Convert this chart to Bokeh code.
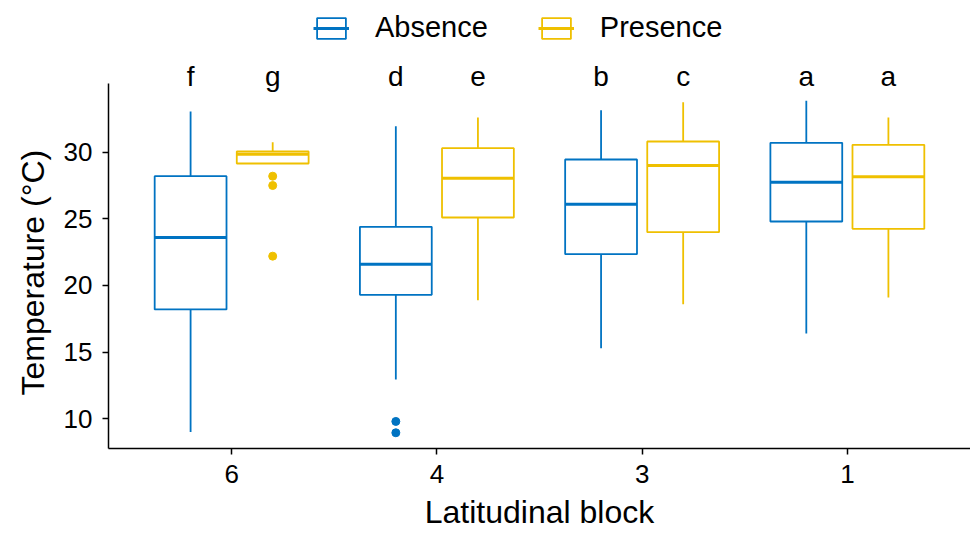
from bokeh.plotting import figure
from bokeh.models import (ColumnDataSource, FixedTicker, Range1d, Legend, LegendItem, Title)
from bokeh.core.properties import value
from bokeh.embed import file_html
from bokeh.resources import INLINE

# ---------------- data ----------------
blocks = ["6", "4", "3", "1"]
groups = ["Absence", "Presence"]

abs_lower = [9.0, 12.95, 15.3, 16.4]
abs_q1 = [18.2, 19.3, 22.35, 24.8]
abs_median = [23.6, 21.6, 26.1, 27.75]
abs_q3 = [28.2, 24.4, 29.45, 30.7]
abs_upper = [33.05, 31.95, 33.15, 33.85]

pre_lower = [29.15, 18.9, 18.6, 19.1]
pre_q1 = [29.15, 25.1, 24.0, 24.25]
pre_median = [29.85, 28.05, 29.0, 28.15]
pre_q3 = [30.05, 30.3, 30.8, 30.55]
pre_upper = [30.75, 32.6, 33.75, 32.6]

abs_out_block = ["4", "4"]
abs_out_value = [9.8, 8.95]
pre_out_block = ["6", "6", "6"]
pre_out_value = [28.2, 27.5, 22.2]

abs_letters = ["f", "d", "b", "a"]
pre_letters = ["g", "e", "c", "a"]

# ---------------- style ----------------
FONT = "Liberation Sans"
BLUE = "#0073C2"
YELLOW = "#EFC000"
DODGE = 0.2
BOX_W = 0.35
LETTER_Y = 35.65
Y_LO, Y_HI = 7.77, 35.15      # panel limits (axis line extent)
Y_TOP = 41.38                 # frame extends to window top for legend/letters

pos = {b: i + 1 for i, b in enumerate(blocks)}

p = figure(width=970, height=533, output_backend="svg", toolbar_location=None,
           x_range=Range1d(0.4, 4.6), y_range=Range1d(Y_LO, Y_TOP),
           min_border_left=108, min_border_right=0, min_border_top=0,
           min_border_bottom=85)
p.outline_line_color = None
p.xgrid.grid_line_color = None
p.ygrid.grid_line_color = None
p.background_fill_color = "white"
p.border_fill_color = "white"


def draw_group(lower, q1, med, q3, upper, out_b, out_v, letters, offset, color, name):
    xs = [pos[b] + offset for b in blocks]
    src = ColumnDataSource(dict(x=xs, lower=lower, q1=q1, med=med, q3=q3, upper=upper,
                                x0=[x - BOX_W / 2 for x in xs],
                                x1=[x + BOX_W / 2 for x in xs],
                                letter=letters, ly=[LETTER_Y] * len(xs)))
    p.segment(x0="x", y0="q3", x1="x", y1="upper", source=src, line_color=color, line_width=1.8)
    p.segment(x0="x", y0="lower", x1="x", y1="q1", source=src, line_color=color, line_width=1.8)
    box = p.vbar(x="x", width=BOX_W, bottom="q1", top="q3", source=src,
                 fill_color="white", line_color=color, line_width=1.8)
    med_r = p.segment(x0="x0", y0="med", x1="x1", y1="med", source=src,
                      line_color=color, line_width=3)
    osrc = ColumnDataSource(dict(x=[pos[b] + offset for b in out_b], y=out_v))
    p.scatter(x="x", y="y", source=osrc, size=8, color=color, line_color=color)
    p.text(x="x", y="ly", text="letter", source=src, text_align="center",
           text_baseline="alphabetic", text_font=value(FONT), text_font_size="28px",
           text_color="black")
    return LegendItem(label=name, renderers=[box, med_r])


it1 = draw_group(abs_lower, abs_q1, abs_median, abs_q3, abs_upper,
                 abs_out_block, abs_out_value, abs_letters, -DODGE, BLUE, groups[0])
it2 = draw_group(pre_lower, pre_q1, pre_median, pre_q3, pre_upper,
                 pre_out_block, pre_out_value, pre_letters, DODGE, YELLOW, groups[1])

legend = Legend(items=[it1, it2], orientation="horizontal", location=(205, 404),
                glyph_width=36, glyph_height=26, label_standoff=26, spacing=50,
                label_text_font=FONT, label_text_font_size="29px",
                label_text_color="black", label_text_baseline="middle",
                padding=0, margin=0, border_line_color=None, background_fill_alpha=0)
p.add_layout(legend, "center")

# axes
p.xaxis.ticker = FixedTicker(ticks=[pos[b] for b in blocks])
p.xaxis.major_label_overrides = {pos[b]: b for b in blocks}
p.yaxis.ticker = FixedTicker(ticks=[10, 15, 20, 25, 30])
p.yaxis.bounds = (Y_LO, Y_HI)
for ax in (p.xaxis, p.yaxis):
    ax.axis_line_color = "black"
    ax.axis_line_width = 1.5
    ax.major_tick_line_color = "black"
    ax.major_tick_line_width = 1.5
    ax.major_tick_in = 0
    ax.major_tick_out = 6
    ax.minor_tick_line_color = None
    ax.major_label_text_font = FONT
    ax.major_label_text_font_size = "26px"
    ax.major_label_text_color = "black"
    ax.axis_label_text_font = FONT
    ax.axis_label_text_font_size = "32px"
    ax.axis_label_text_font_style = "normal"
    ax.axis_label_text_color = "black"
p.xaxis.axis_label = "Latitudinal block"
p.xaxis.major_label_standoff = 10
p.yaxis.major_label_standoff = 10
p.xaxis.axis_label_standoff = 8

ytitle = Title(text="Temperature (°C)", align="left", offset=53,
               text_font=FONT, text_font_size="32px", text_font_style="normal",
               text_color="black", standoff=20)
p.add_layout(ytitle, "left")

open("out.html", "w").write(file_html(p, INLINE))
